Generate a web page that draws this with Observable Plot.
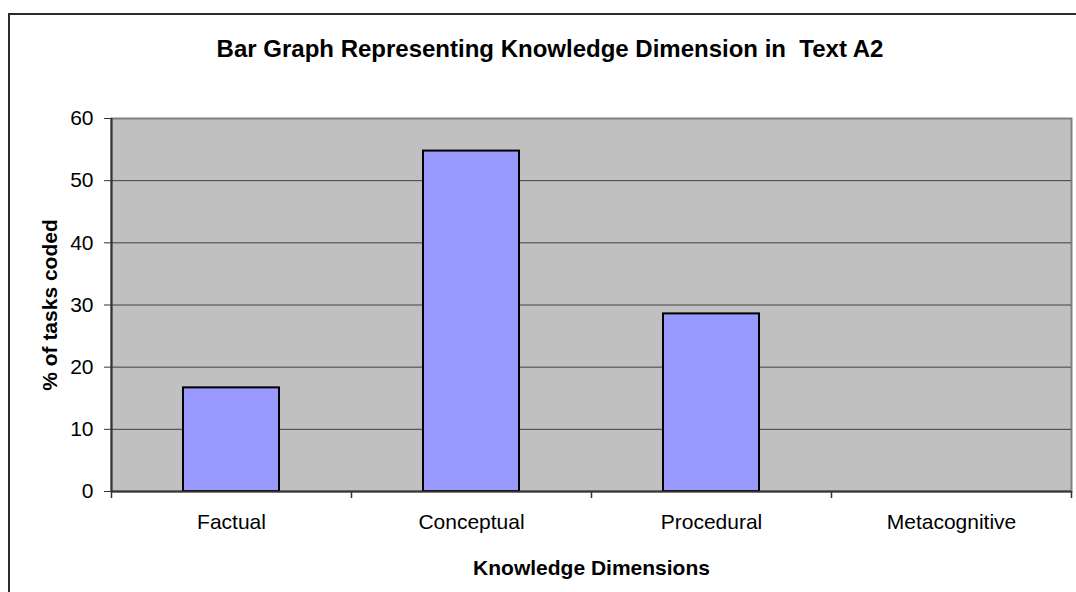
<!DOCTYPE html>
<html><head><meta charset="utf-8">
<script src="https://cdn.jsdelivr.net/npm/d3@7"></script>
<script src="https://cdn.jsdelivr.net/npm/@observablehq/plot@0.6"></script>
<style>
html,body{margin:0;padding:0;background:#fff;overflow:hidden;width:1076px;height:592px;}
#box{position:absolute;left:8px;top:13px;width:1200px;height:700px;border-top:2px solid #2b2b2b;border-left:2px solid #2b2b2b;}
#title{position:absolute;left:0;top:35px;width:1100px;height:24px;line-height:24px;text-align:center;white-space:pre;font:bold 24px "Liberation Sans",Arial,sans-serif;color:#000;}
#chart{position:absolute;left:0;top:0;}
</style></head><body>
<div id="box"></div>
<div id="title">Bar Graph Representing Knowledge Dimension in  Text A2</div>
<div id="chart"></div>
<script>
const categories = ["Factual", "Conceptual", "Procedural", "Metacognitive"];
const percentages = [16.67, 54.76, 28.57, 0];
const yTicks = [0, 10, 20, 30, 40, 50, 60];
const xTitle = "Knowledge Dimensions";
const yTitle = "% of tasks coded";

const W = 1076, H = 592;
const mL = 111, mR = 5, mT = 118, mB = 101;
const step = (W - mL - mR) / categories.length;
const data = categories.map((c, i) => ({category: c, value: percentages[i]}));

const chart = Plot.plot({
  width: W, height: H,
  marginLeft: mL, marginRight: mR, marginTop: mT, marginBottom: mB,
  style: {fontFamily: '"Liberation Sans", Arial, sans-serif', fontSize: "21px", color: "#000", background: "transparent", overflow: "visible"},
  x: {domain: categories, paddingInner: 0.6, paddingOuter: 0.3, align: 0.5, label: null},
  y: {domain: [0, 60], label: null},
  marks: [
    Plot.frame({fill: "#C0C0C0", stroke: "#808080", strokeWidth: 2}),
    Plot.ruleY(yTicks.filter(t => t > 0 && t < 60), {stroke: "#404040", strokeWidth: 1}),
    Plot.barY(data.filter(d => d.value > 0), {x: "category", y: "value", fill: "#9999FF", stroke: "#000", strokeWidth: 2}),
    Plot.ruleY([0], {stroke: "#333", strokeWidth: 2}),
    Plot.ruleX([categories[0]], {dx: -step / 2, y1: 0, y2: 60, stroke: "#333", strokeWidth: 2}),
    Plot.ruleX(categories, {dx: -step / 2, y1: 0, y2: 0, insetBottom: -7, stroke: "#333", strokeWidth: 1.5}),
    Plot.ruleX([categories[categories.length - 1]], {dx: step / 2, y1: 0, y2: 0, insetBottom: -7, stroke: "#333", strokeWidth: 1.5}),
    Plot.axisY(yTicks, {tickSize: 7, tickPadding: 11, stroke: "#333", label: null, fontSize: 21}),
    Plot.axisX({tickSize: 0, tickPadding: 23, label: null, fontSize: 21}),
    Plot.text([xTitle], {frameAnchor: "bottom", dy: 77, lineAnchor: "middle", textAnchor: "middle", fontWeight: "bold", fontSize: 21}),
    Plot.text([yTitle], {frameAnchor: "left", dx: -61, rotate: -90, textAnchor: "middle", lineAnchor: "middle", fontWeight: "bold", fontSize: 21})
  ]
});
document.getElementById("chart").appendChild(chart);
</script>
</body></html>
